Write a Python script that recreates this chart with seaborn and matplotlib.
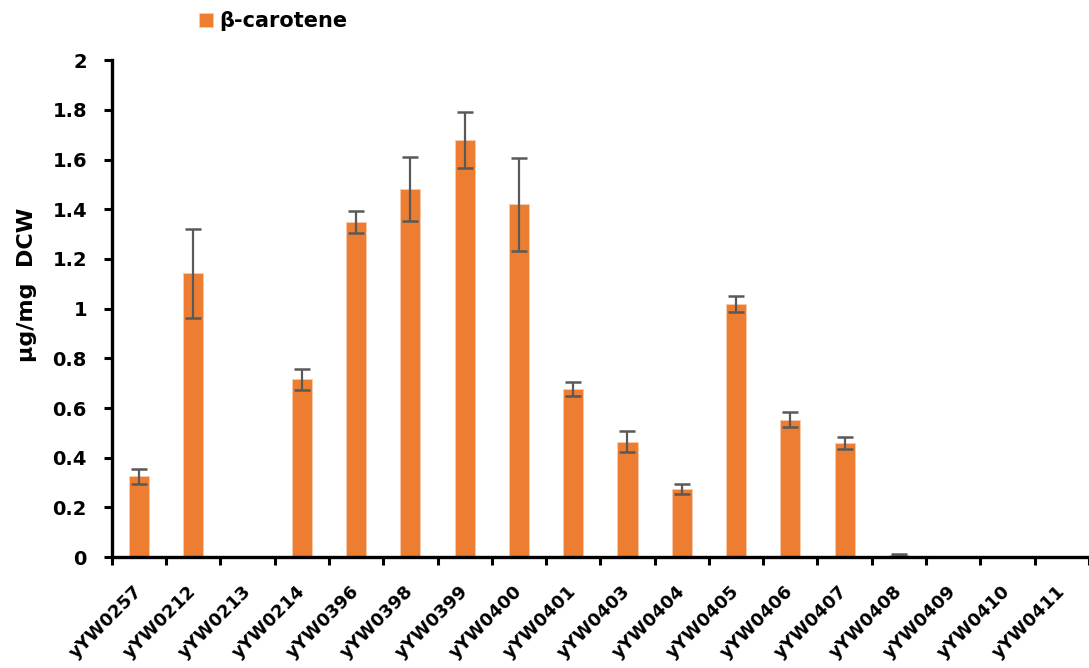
import matplotlib
matplotlib.use("Agg")
import matplotlib.pyplot as plt
import matplotlib.transforms as mtransforms
import seaborn as sns
import pandas as pd
import numpy as np
from matplotlib.ticker import FixedLocator

strains = ["yYW0257", "yYW0212", "yYW0213", "yYW0214", "yYW0396", "yYW0398",
           "yYW0399", "yYW0400", "yYW0401", "yYW0403", "yYW0404", "yYW0405",
           "yYW0406", "yYW0407", "yYW0408", "yYW0409", "yYW0410", "yYW0411"]
carotene = [0.325, 1.142, 0.0, 0.715, 1.347, 1.48, 1.679, 1.42, 0.677, 0.465,
            0.273, 1.018, 0.553, 0.459, 0.008, 0.0, 0.0, 0.0]
errors = [0.03, 0.18, 0.0, 0.043, 0.044, 0.129, 0.114, 0.188, 0.028, 0.043,
          0.02, 0.033, 0.03, 0.025, 0.003, 0.0, 0.0, 0.0]
yticks = [0, 0.2, 0.4, 0.6, 0.8, 1, 1.2, 1.4, 1.6, 1.8, 2]
ytick_labels = ["0", "0.2", "0.4", "0.6", "0.8", "1", "1.2", "1.4", "1.6", "1.8", "2"]

sns.set_style("white")
plt.rcParams["font.family"] = ["DejaVu Sans"]
plt.rcParams["font.weight"] = "bold"
plt.rcParams["text.color"] = "black"
plt.rcParams["axes.labelcolor"] = "black"
plt.rcParams["xtick.color"] = "black"
plt.rcParams["ytick.color"] = "black"

df = pd.DataFrame({"strain": strains, "value": carotene, "err": errors})

fig = plt.figure(figsize=(10.89, 6.68), dpi=100)
ax = fig.add_axes([0.1028, 0.166, 0.897, 0.744])

sns.barplot(data=df, x="strain", y="value", color="#ED7D31", saturation=1,
            width=0.37, label="β-carotene", ax=ax, errorbar=None)
for p in ax.patches:
    p.set_edgecolor("#F8CBAD")
    p.set_linewidth(0.6)

xpos = np.arange(len(strains))
mask = np.array(errors) > 0
ax.errorbar(xpos[mask], np.array(carotene)[mask], yerr=np.array(errors)[mask],
            fmt="none", ecolor="#595959", elinewidth=1.6, capsize=6, capthick=1.8)

ax.set_xlim(-0.5, len(strains) - 0.5)
ax.set_ylim(0, 2)
ax.set_yticks(yticks)
ax.set_yticklabels(ytick_labels, fontsize=14, fontweight="bold", color="black")
ax.set_xticks(xpos)
ax.set_xticklabels(strains, rotation=45, ha="right", rotation_mode="anchor",
                   fontsize=13, fontweight="bold", color="black")
ax.xaxis.set_minor_locator(FixedLocator(np.arange(-0.5, len(strains), 1.0)))
ax.tick_params(axis="x", which="major", length=0, pad=18)
ax.tick_params(axis="x", which="minor", length=6, width=2.2, direction="out", color="black")
ax.tick_params(axis="y", which="major", length=6, width=2.2, direction="out", color="black", pad=12)
ax.tick_params(bottom=True, left=True)
ax.xaxis.set_tick_params(which="minor", bottom=True)

shift = mtransforms.ScaledTranslation(-6 / 100, 0, fig.dpi_scale_trans)
for tick in ax.xaxis.get_major_ticks():
    tick.label1.set_transform(tick.label1.get_transform() + shift)

for s in ["top", "right"]:
    ax.spines[s].set_visible(False)
for s in ["left", "bottom"]:
    ax.spines[s].set_linewidth(2.4)
    ax.spines[s].set_color("black")

ax.set_xlabel("")
ax.set_ylabel("μg/mg  DCW", fontsize=16, fontweight="bold", color="black")
ax.yaxis.set_label_coords(-0.077, 0.547)

leg = ax.legend(loc="upper left", bbox_to_anchor=(189 / 1089, 1 - 1 / 668), bbox_transform=fig.transFigure,
                frameon=False, borderpad=0, handlelength=0.67, handleheight=0.67, handletextpad=0.3,
                prop={"size": 15, "weight": "bold"})
for t in leg.get_texts():
    t.set_color("black")

fig.savefig("out.png", dpi=100)
